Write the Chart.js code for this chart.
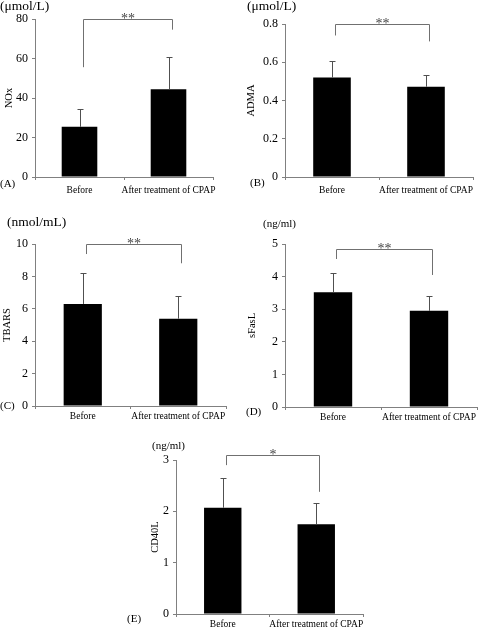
<!DOCTYPE html>
<html>
<head>
<meta charset="utf-8">
<title>NOx, ADMA, TBARS, sFasL, CD40L before / after CPAP</title>
<script src="https://cdn.jsdelivr.net/npm/chart.js@4.4.1/dist/chart.umd.min.js"></script>
<style>
    html, body { margin: 0; padding: 0; background: #fff; }
    #wrap { position: relative; width: 478px; height: 628px; overflow: hidden; }
    #wrap canvas { position: absolute; }
</style>
</head>
<body>
<div id="wrap">
    <canvas id="chartA" width="240" height="200" style="left:0px; top:0px;"></canvas>
    <canvas id="chartB" width="238" height="200" style="left:240px; top:0px;"></canvas>
    <canvas id="chartC" width="240" height="228" style="left:0px; top:200px;"></canvas>
    <canvas id="chartD" width="238" height="228" style="left:240px; top:200px;"></canvas>
    <canvas id="chartE" width="250" height="198" style="left:120px; top:430px;"></canvas>
</div>
<script>
/* ----------------------------------------------------------------------------
                                     DATA
---------------------------------------------------------------------------- */
var categories = ['Before', 'After treatment of CPAP'];

// (A) NOx, umol/L
var noxMean = [25.4, 44.4];
var noxSd = [9.0, 16.6];
var noxTicks = [0, 20, 40, 60, 80];
var noxBracket = [80, 55.6, 74.6];      // top, left leg end, right leg end

// (B) ADMA, umol/L
var admaMean = [0.52, 0.472];
var admaSd = [0.084, 0.062];
var admaTicks = [0, 0.2, 0.4, 0.6, 0.8];
var admaBracket = [0.8, 0.74, 0.709];

// (C) TBARS, nmol/mL
var tbarsMean = [6.30, 5.39];
var tbarsSd = [1.93, 1.40];
var tbarsTicks = [0, 2, 4, 6, 8, 10];
var tbarsBracket = [10, 9.38, 8.81];

// (D) sFasL, ng/ml
var sfaslMean = [3.52, 2.95];
var sfaslSd = [0.60, 0.46];
var sfaslTicks = [0, 1, 2, 3, 4, 5];
var sfaslBracket = [4.85, 4.54, 4.05];

// (E) CD40L, ng/ml
var cd40lMean = [2.07, 1.75];
var cd40lSd = [0.57, 0.41];
var cd40lTicks = [0, 1, 2, 3];
var cd40lBracket = [3.10, 2.90, 2.38];

/* ----------------------------------------------------------------------------
                                    LAYOUT
---------------------------------------------------------------------------- */
var serif = '"Liberation Serif", "Times New Roman", serif';
var axisColor = '#808080';

// size = canvas size, area = plot area inside the canvas (left, top, right, bottom)
var panels = [
    { id: 'chartA', mean: noxMean, sd: noxSd, ticks: noxTicks, bracket: noxBracket, stars: '**',
      yTitle: 'NOx', unit: '(\u03bcmol/L)', letter: '(A)', unitSize: 13.5, labelPad: 5,
      size: [240, 200], area: [35, 19, 213, 177], titleX: 9, unitPos: [0, 6], letterPos: [0, 184] },
    { id: 'chartB', mean: admaMean, sd: admaSd, ticks: admaTicks, bracket: admaBracket, stars: '**',
      yTitle: 'ADMA', unit: '(\u03bcmol/L)', letter: '(B)', unitSize: 13.5, labelPad: 5,
      size: [238, 200], area: [45, 24, 233, 177], titleX: 11, unitPos: [7, 6], letterPos: [10, 183] },
    { id: 'chartC', mean: tbarsMean, sd: tbarsSd, ticks: tbarsTicks, bracket: tbarsBracket, stars: '**',
      yTitle: 'TBARS', unit: '(nmol/mL)', letter: '(C)', unitSize: 13.5, labelPad: 2,
      size: [240, 228], area: [35, 44, 226, 206], titleX: 7, unitPos: [7, 22], letterPos: [0, 206] },
    { id: 'chartD', mean: sfaslMean, sd: sfaslSd, ticks: sfaslTicks, bracket: sfaslBracket, stars: '**',
      yTitle: 'sFasL', unit: '(ng/ml)', letter: '(D)', unitSize: 11, labelPad: 2,
      size: [238, 228], area: [45, 44, 237, 207], titleX: 12, unitPos: [23, 24], letterPos: [6, 212] },
    { id: 'chartE', mean: cd40lMean, sd: cd40lSd, ticks: cd40lTicks, bracket: cd40lBracket, stars: '*',
      yTitle: 'CD40L', unit: '(ng/ml)', letter: '(E)', unitSize: 11, labelPad: 2,
      size: [250, 198], area: [56, 30, 243, 184], titleX: 35, unitPos: [32, 16], letterPos: [7, 189] }
];

/* ----------------------------------------------------------------------------
                                    MAIN
---------------------------------------------------------------------------- */
function makeChart(p) {
    var left = p.area[0], top = p.area[1], right = p.area[2], bottom = p.area[3];

    // error bars, bracket, stars, unit and panel letter
    var extras = {
        id: 'extras',
        afterDraw: function(chart) {
            var ctx = chart.ctx;
            var y = chart.scales.y;
            var bars = chart.getDatasetMeta(0).data;
            ctx.save();
            ctx.lineWidth = 1;

            ctx.strokeStyle = '#505050';
            for (var i = 0; i < bars.length; i++) {
                var bx = Math.round(bars[i].x) + 0.5;
                var yTop = Math.round(y.getPixelForValue(p.mean[i] + p.sd[i])) + 0.5;
                ctx.beginPath();
                ctx.moveTo(bx, bars[i].y);
                ctx.lineTo(bx, yTop);
                ctx.moveTo(bx - 3, yTop);
                ctx.lineTo(bx + 3, yTop);
                ctx.stroke();
            }

            var x1 = Math.round(bars[0].x + 3) + 0.5;
            var x2 = Math.round(bars[1].x + 3) + 0.5;
            var yb = Math.round(y.getPixelForValue(p.bracket[0])) + 0.5;
            ctx.strokeStyle = '#707070';
            ctx.beginPath();
            ctx.moveTo(x1, y.getPixelForValue(p.bracket[1]));
            ctx.lineTo(x1, yb);
            ctx.lineTo(x2, yb);
            ctx.lineTo(x2, y.getPixelForValue(p.bracket[2]));
            ctx.stroke();

            ctx.fillStyle = '#444';
            ctx.font = '14px ' + serif;
            ctx.textAlign = 'center';
            ctx.textBaseline = 'alphabetic';
            ctx.fillText(p.stars, (x1 + x2) / 2, yb + 3);

            ctx.fillStyle = '#000';
            ctx.textAlign = 'left';
            ctx.textBaseline = 'middle';
            ctx.font = p.unitSize + 'px ' + serif;
            ctx.fillText(p.unit, p.unitPos[0], p.unitPos[1]);
            ctx.font = '11px ' + serif;
            ctx.fillText(p.letter, p.letterPos[0], p.letterPos[1]);
            ctx.restore();
        }
    };

    return new Chart(document.getElementById(p.id), {
        type: 'bar',
        data: {
            labels: categories,
            datasets: [{
                data: p.mean,
                backgroundColor: '#000',
                borderWidth: 0,
                barPercentage: 0.8,
                categoryPercentage: 0.5
            }]
        },
        options: {
            responsive: false,
            animation: false,
            layout: {
                padding: { top: top, right: p.size[0] - right, left: 0, bottom: 0 }
            },
            plugins: {
                legend: { display: false },
                tooltip: { enabled: false }
            },
            scales: {
                x: {
                    grid: { drawOnChartArea: false, tickLength: 3, color: axisColor },
                    border: { color: axisColor },
                    ticks: { color: '#000', font: { family: serif, size: 9.5 }, padding: p.labelPad, maxRotation: 0, autoSkip: false },
                    afterFit: function(s) {
                        s.height = p.size[1] - bottom;
                        s.paddingLeft = 0;
                        s.paddingRight = 0;
                    }
                },
                y: {
                    min: p.ticks[0],
                    max: p.ticks[p.ticks.length - 1],
                    grid: { drawOnChartArea: false, tickLength: 3, color: axisColor },
                    border: { color: axisColor },
                    ticks: { stepSize: p.ticks[1] - p.ticks[0], color: '#000', font: { family: serif, size: 12 }, padding: 4 },
                    title: {
                        display: true,
                        text: p.yTitle,
                        color: '#000',
                        font: { family: serif, size: 10.5, lineHeight: 1 },
                        padding: { top: p.titleX - 5, bottom: 0 }
                    },
                    afterFit: function(s) {
                        s.width = left;
                        s.paddingTop = 0;
                        s.paddingBottom = 0;
                    }
                }
            }
        },
        plugins: [extras]
    });
}

var charts = [];
for (var i = 0; i < panels.length; i++) {
    charts.push(makeChart(panels[i]));
}
</script>
</body>
</html>
